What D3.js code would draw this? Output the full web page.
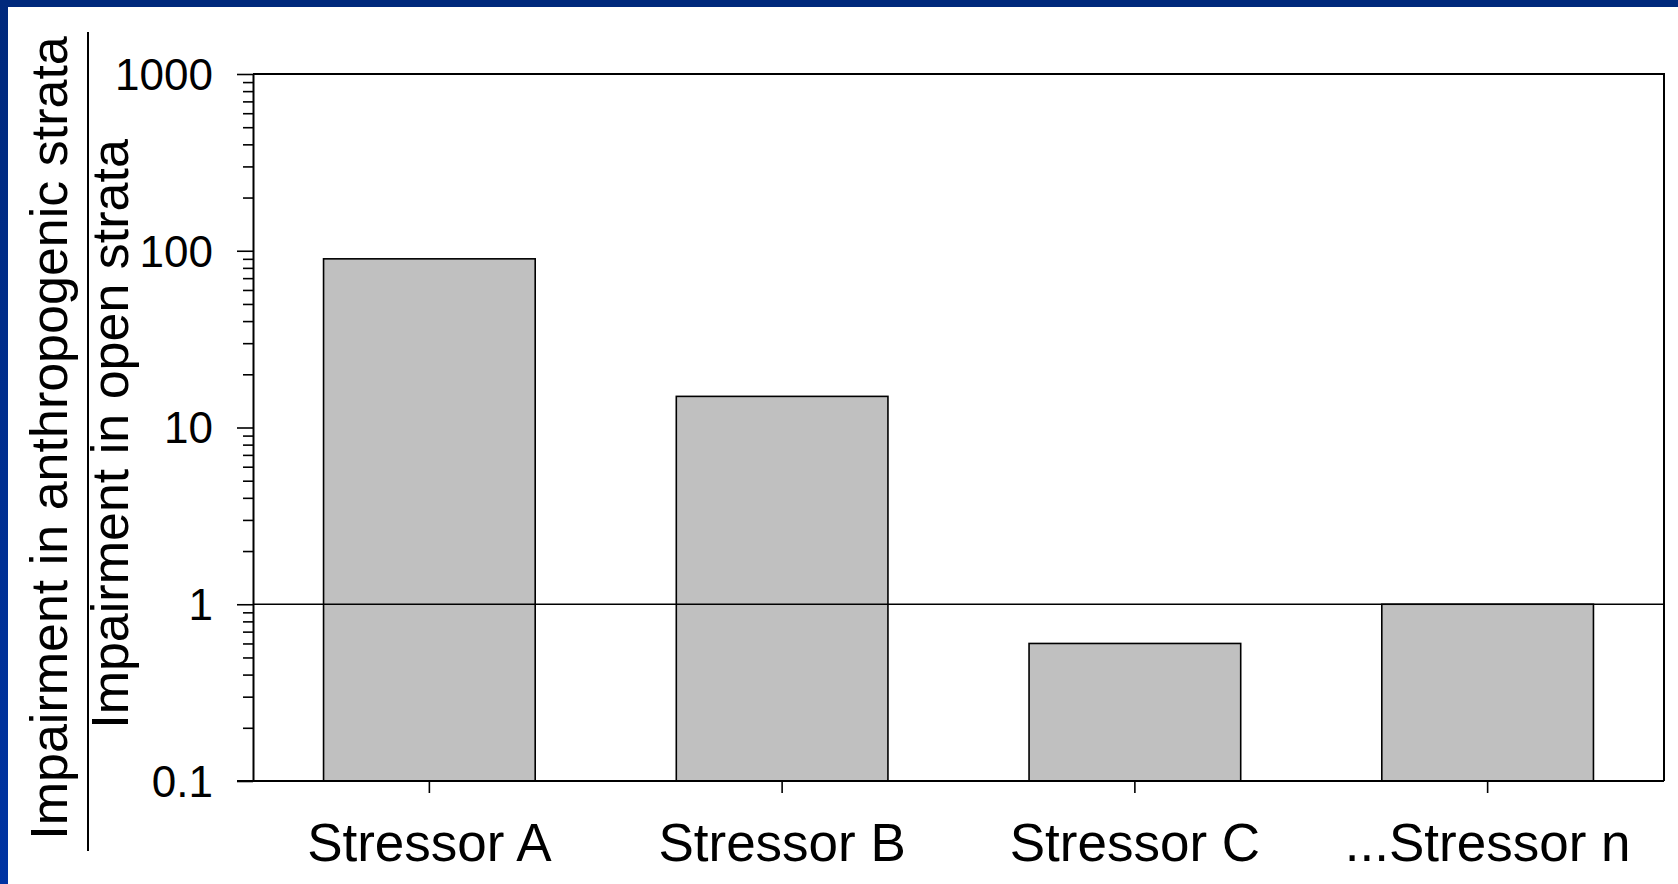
<!DOCTYPE html>
<html>
<head>
<meta charset="utf-8">
<script src="https://cdn.jsdelivr.net/npm/d3@7"></script>
<style>
  html, body { margin: 0; padding: 0; background: #fff; }
  svg { display: block; }
  text { font-family: Arial, "Liberation Sans", sans-serif; fill: #000; }
</style>
</head>
<body>
<script>
// Ratio of impairment (anthropogenic vs. open strata) per stressor
const categories = ["Stressor A", "Stressor B", "Stressor C", "...Stressor n"];
const ratios = [90, 15, 0.6, 1];
const majorTicks = [0.1, 1, 10, 100, 1000];
const majorTickLabels = ["0.1", "1", "10", "100", "1000"];
const yDomain = [0.1, 1000];
const referenceValue = 1;
const titleNumerator = "Impairment in anthropogenic strata";
const titleDenominator = "Impairment in open strata";

const W = 1678, H = 884;
const plot = { left: 253, right: 1664, top: 74, bottom: 781 };

const svg = d3.select("body").append("svg")
  .attr("width", W).attr("height", H);

// slide frame
const defs = svg.append("defs");
const grad = defs.append("linearGradient").attr("id", "edgeBlue")
  .attr("x1", 0).attr("y1", 0).attr("x2", 0).attr("y2", 1);
grad.append("stop").attr("offset", "0%").attr("stop-color", "#00297c");
grad.append("stop").attr("offset", "100%").attr("stop-color", "#0034a3");
svg.append("rect").attr("x", 0).attr("y", 0).attr("width", W).attr("height", H).attr("fill", "#fff");
svg.append("rect").attr("x", 0).attr("y", 0).attr("width", W).attr("height", 7).attr("fill", "#00297c");
svg.append("rect").attr("x", 0).attr("y", 0).attr("width", 8).attr("height", H).attr("fill", "url(#edgeBlue)");

const x = d3.scaleBand()
  .domain(categories)
  .range([plot.left, plot.right])
  .paddingInner(0.4)
  .paddingOuter(0.2);

const y = d3.scaleLog()
  .domain(yDomain)
  .range([plot.bottom, plot.top]);

// bars rise from the bottom of the axis
svg.append("g").selectAll("rect")
  .data(categories)
  .join("rect")
  .attr("x", d => x(d))
  .attr("width", x.bandwidth())
  .attr("y", (d, i) => y(ratios[i]))
  .attr("height", (d, i) => y(yDomain[0]) - y(ratios[i]))
  .attr("fill", "#c0c0c0")
  .attr("stroke", "#000")
  .attr("stroke-width", 1.6);

// reference line at ratio = 1
svg.append("line")
  .attr("x1", plot.left).attr("x2", plot.right)
  .attr("y1", y(referenceValue)).attr("y2", y(referenceValue))
  .attr("stroke", "#000").attr("stroke-width", 1.6);

// top and right edges of the plot box
svg.append("path")
  .attr("d", `M${plot.left},${plot.top}H${plot.right}V${plot.bottom}`)
  .attr("fill", "none").attr("stroke", "#000").attr("stroke-width", 2);

// minor log ticks
const minorTicks = [];
for (let e = -1; e < 3; e++) {
  for (let m = 2; m <= 9; m++) minorTicks.push(m * Math.pow(10, e));
}
const minorAxis = svg.append("g")
  .attr("transform", `translate(${plot.left},0)`)
  .call(d3.axisLeft(y).tickValues(minorTicks).tickSize(10).tickFormat(""));
minorAxis.select(".domain").remove();
minorAxis.selectAll("line").attr("stroke", "#000").attr("stroke-width", 1.6);

// major ticks with labels
const yAxis = svg.append("g")
  .attr("transform", `translate(${plot.left},0)`)
  .call(d3.axisLeft(y)
    .tickValues(majorTicks)
    .tickSize(16)
    .tickSizeOuter(0)
    .tickPadding(24)
    .tickFormat((d, i) => majorTickLabels[i]));
yAxis.select(".domain").attr("stroke", "#000").attr("stroke-width", 2);
yAxis.selectAll(".tick line").attr("stroke", "#000").attr("stroke-width", 1.6);
yAxis.selectAll("text")
  .style("font-family", "Arial, 'Liberation Sans', sans-serif")
  .style("font-size", "44px")
  .attr("fill", "#000")
  .attr("dy", "0.35em");

// category axis
const xAxis = svg.append("g")
  .attr("transform", `translate(0,${plot.bottom})`)
  .call(d3.axisBottom(x).tickSize(12).tickSizeOuter(0).tickPadding(30));
xAxis.select(".domain")
  .attr("d", `M${plot.left - 16},0H${plot.right}`)
  .attr("stroke", "#000").attr("stroke-width", 2);
xAxis.selectAll(".tick line").attr("stroke", "#000").attr("stroke-width", 1.6);
xAxis.selectAll("text")
  .style("font-family", "Arial, 'Liberation Sans', sans-serif")
  .style("font-size", "53px")
  .attr("fill", "#000")
  .attr("dy", "0.71em");

// ratio-style axis title: numerator / denominator
svg.append("text")
  .attr("transform", "translate(67,438) rotate(-90)")
  .attr("text-anchor", "middle")
  .style("font-size", "52px")
  .text(titleNumerator);
svg.append("line")
  .attr("x1", 88).attr("x2", 88)
  .attr("y1", 32).attr("y2", 851)
  .attr("stroke", "#000").attr("stroke-width", 2);
svg.append("text")
  .attr("transform", "translate(128,434) rotate(-90)")
  .attr("text-anchor", "middle")
  .style("font-size", "52px")
  .text(titleDenominator);
</script>
</body>
</html>
